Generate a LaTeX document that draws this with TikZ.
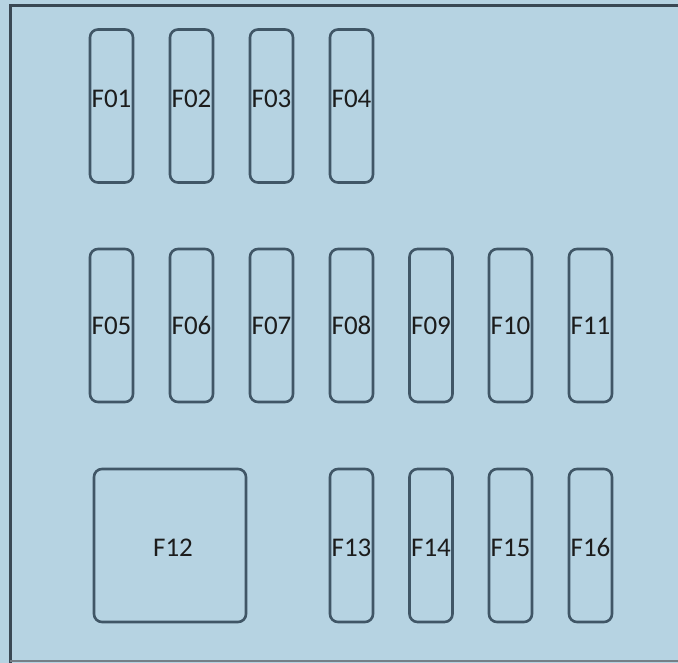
\documentclass[tikz,border=0pt]{standalone}
\usepackage{fontspec}
\setmainfont{Carlito}
\begin{document}
\begin{tikzpicture}[x=1pt,y=-1pt,
  fuse/.style={draw=fuseline,line width=2.6pt,rounded corners=8pt,minimum width=43pt,minimum height=153pt,inner sep=0pt},
  bigfuse/.style={fuse,minimum width=152pt,minimum height=153pt},
  lbl/.style={inner sep=0pt,font=\fontsize{27}{27}\selectfont,text=labeltext}]
\definecolor{bg}{RGB}{182,211,226}
\definecolor{fuseline}{RGB}{64,86,102}
\definecolor{frameline}{RGB}{58,72,84}
\definecolor{labeltext}{RGB}{28,28,28}
\fill[bg] (0,0) rectangle (678,663);
\useasboundingbox (0,0) rectangle (678,663);
\draw[frameline,line width=3pt] (678,6) -- (10,6) -- (10,663);
\draw[frameline!70,line width=1.5pt] (10,661) -- (678,661);
% row 1
\foreach \n/\x in {01/111.5,02/191.5,03/271.5,04/351.5}{
  \node[fuse] (F\n) at (\x,106) {};
  \node[lbl] (L\n) at ([yshift=7pt]F\n.center) {F\n};
}
% row 2
\foreach \n/\x in {05/111.5,06/191.5,07/271.5,08/351.5,09/431,10/510.5,11/590.5}{
  \node[fuse] (F\n) at (\x,325.5) {};
  \node[lbl] (L\n) at (F\n.center) {F\n};
}
% row 3
\node[bigfuse] (F12) at (170,545.5) {};
\node[lbl] (L12) at ([xshift=3pt,yshift=-2pt]F12.center) {F12};
\foreach \n/\x in {13/351.5,14/431,15/510.5,16/590.5}{
  \node[fuse] (F\n) at (\x,545.5) {};
  \node[lbl] (L\n) at ([yshift=-2pt]F\n.center) {F\n};
}
\end{tikzpicture}
\end{document}
